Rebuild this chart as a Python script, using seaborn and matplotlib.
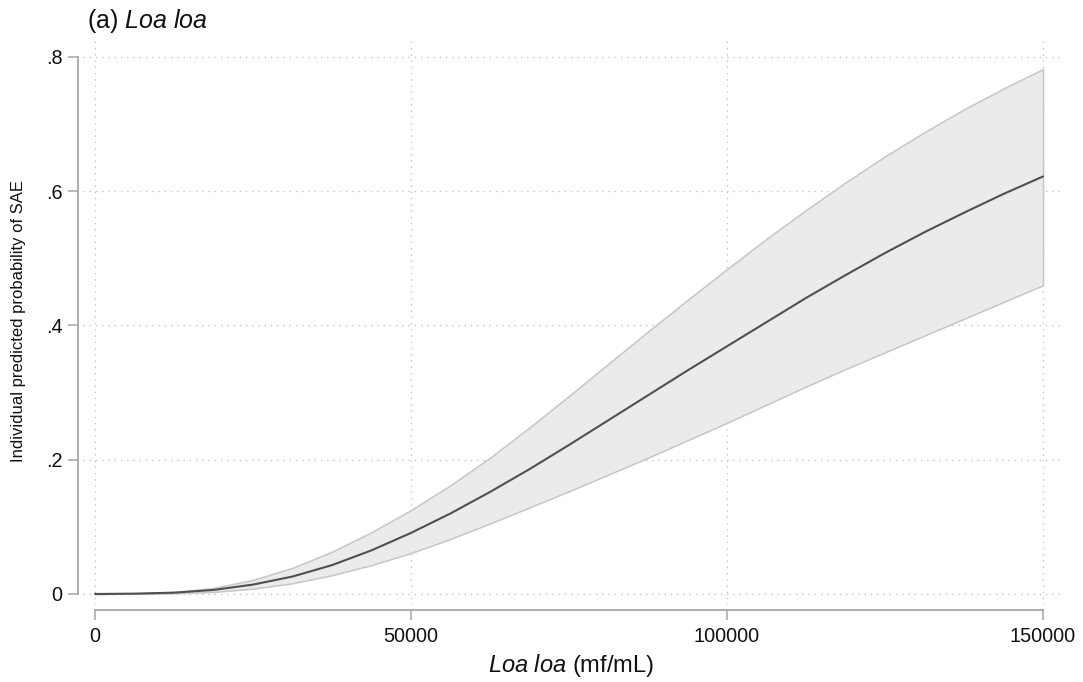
import matplotlib
matplotlib.use("Agg")
import matplotlib.pyplot as plt
import seaborn as sns
import pandas as pd

# Data
mf_ml = [0, 6250, 12500, 18750, 25000, 31250, 37500, 43750, 50000, 56250, 62500,
         68750, 75000, 81250, 87500, 93750, 100000, 106250, 112500, 118750, 125000,
         131250, 137500, 143750, 150000]
prob_mean = [0.0, 0.0005, 0.002, 0.006, 0.014, 0.026, 0.043, 0.065, 0.091, 0.120, 0.152,
             0.186, 0.222, 0.259, 0.296, 0.333, 0.369, 0.405, 0.441, 0.475, 0.508,
             0.539, 0.568, 0.596, 0.622]
prob_upper = [0.0, 0.0007, 0.003, 0.009, 0.021, 0.039, 0.063, 0.092, 0.125, 0.162, 0.203,
              0.248, 0.295, 0.343, 0.391, 0.438, 0.484, 0.529, 0.572, 0.613, 0.652,
              0.688, 0.722, 0.753, 0.782]
prob_lower = [0.0, 0.0003, 0.001, 0.003, 0.008, 0.016, 0.028, 0.043, 0.061, 0.082, 0.105,
              0.129, 0.153, 0.178, 0.203, 0.229, 0.255, 0.282, 0.309, 0.335, 0.360,
              0.385, 0.410, 0.435, 0.460]
x_ticks = [0, 50000, 100000, 150000]
x_tick_labels = ["0", "50000", "100000", "150000"]
y_ticks = [0, 0.2, 0.4, 0.6, 0.8]
y_tick_labels = ["0", ".2", ".4", ".6", ".8"]

df = pd.DataFrame({"x": mf_ml, "mean": prob_mean, "lo": prob_lower, "hi": prob_upper})

sns.set_theme(style="white")
plt.rcParams["font.family"] = ["Liberation Sans", "DejaVu Sans"]
plt.rcParams["mathtext.fontset"] = "custom"
plt.rcParams["mathtext.rm"] = "Liberation Sans"
plt.rcParams["mathtext.it"] = "Liberation Sans:italic"

W, H = 1083, 682
fig = plt.figure(figsize=(W / 100, H / 100), dpi=100)
ax_l, ax_r, ax_t, ax_b = 83, 1060, 38, 605
ax = fig.add_axes([ax_l / W, 1 - ax_b / H, (ax_r - ax_l) / W, (ax_b - ax_t) / H])

ax.fill_between(df["x"], df["lo"], df["hi"], facecolor="#ebebeb",
                edgecolor="#c6c6c6", linewidth=1.1, zorder=2)
sns.lineplot(data=df, x="x", y="mean", ax=ax, color="#505050", linewidth=1.5, zorder=3)

ax.set_xlim(-1899, 152690)
ax.set_ylim(-0.0164, 0.8283)
ax.set_xticks(x_ticks)
ax.set_xticklabels(x_tick_labels)
ax.set_yticks(y_ticks)
ax.set_yticklabels(y_tick_labels)

ax.grid(True, linestyle=(0, (1, 4)), color="#bdbdbd", linewidth=0.9, zorder=0)
ax.set_axisbelow(True)

for s in ["top", "right"]:
    ax.spines[s].set_visible(False)
spine_col = "#a6a6a6"
ax.spines["left"].set_position(("outward", 3.6))
ax.spines["bottom"].set_position(("outward", 3.6))
ax.spines["left"].set_bounds(0, 0.8)
ax.spines["bottom"].set_bounds(0, 150000)
for s in ["left", "bottom"]:
    ax.spines[s].set_color(spine_col)
    ax.spines[s].set_linewidth(1.3)

ax.tick_params(axis="both", direction="out", length=7, width=1.1, color=spine_col,
               labelsize=14.3, labelcolor="#111111")
ax.tick_params(axis="y", pad=4)
ax.tick_params(axis="x", pad=5.5)
ax.tick_params(left=True, bottom=True)

ax.set_xlabel(r"$\mathit{Loa\ loa}$ (mf/mL)", fontsize=17, color="#111111", labelpad=4)
ax.set_ylabel("Individual predicted probability of SAE", fontsize=12, color="#111111")
ax.yaxis.set_label_coords(-57 / (ax_r - ax_l), 0.5)

fig.text(87 / W, 1 - 28 / H, r"(a) $\mathit{Loa\ loa}$", fontsize=18, color="#111111",
         ha="left", va="baseline")

fig.savefig("out.png", dpi=100)
